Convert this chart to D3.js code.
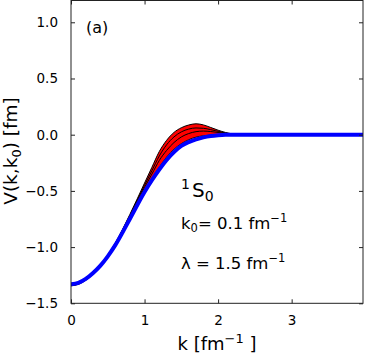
<!DOCTYPE html>
<html>
<head>
<meta charset="utf-8">
<script src="https://cdn.jsdelivr.net/npm/d3@7"></script>
<style>
    body { margin: 0; background: #fff; }
    text { font-family: 'DejaVu Sans', sans-serif; fill: #000; }
</style>
</head>
<body>
<div id="chart"></div>
<script>
// momentum grid [fm^-1]
const kGrid = [0, 0.1, 0.2, 0.3, 0.4, 0.5, 0.6, 0.8, 1.0, 1.1, 1.2, 1.3, 1.4, 1.5, 1.6, 1.7, 1.8, 1.9, 2.0, 2.1, 2.2, 2.3, 2.5, 3.0, 3.5, 4.0];

// black curves, top to bottom of the red band
const band1 = [-1.335, -1.322, -1.285, -1.23, -1.16, -1.07, -0.965, -0.71, -0.43, -0.29, -0.15, -0.05, 0.02, 0.062, 0.086, 0.097, 0.087, 0.064, 0.040, 0.020, 0.007, 0.002, 0, 0, 0, 0];
const band2 = [-1.337, -1.324, -1.287, -1.232, -1.163, -1.075, -0.97, -0.72, -0.45, -0.32, -0.19, -0.09, -0.02, 0.025, 0.05, 0.06, 0.057, 0.045, 0.03, 0.015, 0.005, 0.001, 0, 0, 0, 0];
const band3 = [-1.34, -1.327, -1.29, -1.236, -1.168, -1.08, -0.978, -0.73, -0.47, -0.35, -0.23, -0.14, -0.07, -0.02, 0.01, 0.027, 0.032, 0.028, 0.02, 0.01, 0.004, 0.001, 0, 0, 0, 0];
const band4 = [-1.345, -1.332, -1.296, -1.242, -1.175, -1.09, -0.99, -0.745, -0.50, -0.39, -0.29, -0.20, -0.13, -0.08, -0.045, -0.022, -0.01, -0.004, 0, 0, 0, 0, 0, 0, 0, 0];
// thick blue curve
const blueCurve = [-1.33, -1.318, -1.283, -1.23, -1.165, -1.082, -0.985, -0.75, -0.51, -0.405, -0.31, -0.225, -0.155, -0.10, -0.066, -0.042, -0.024, -0.012, -0.005, -0.001, 0, 0, 0, 0, 0, 0];

const xTicks = [0, 1, 2, 3];
const yTicks = [-1.5, -1.0, -0.5, 0.0, 0.5, 1.0];

const width = 365;
const height = 355;
const plot = { left: 71, right: 363, top: -0.2, bottom: 303.3 };

const x = d3.scaleLinear().domain([0, 3.97]).range([plot.left, plot.right]);
const y = d3.scaleLinear().domain([-1.5, 1.2]).range([plot.bottom, plot.top]);

const svg = d3.select('#chart').append('svg')
    .attr('width', width)
    .attr('height', height);

svg.append('clipPath').attr('id', 'clip')
    .append('rect')
    .attr('x', plot.left)
    .attr('y', 0)
    .attr('width', plot.right - plot.left)
    .attr('height', plot.bottom);

const toPoints = vals => kGrid.map((k, i) => ({ k, v: vals[i] }));

const line = d3.line()
    .x(d => x(d.k))
    .y(d => y(d.v))
    .curve(d3.curveMonotoneX);

const area = d3.area()
    .x((d, i) => x(kGrid[i]))
    .y0((d, i) => y(band4[i]))
    .y1((d, i) => y(band1[i]))
    .curve(d3.curveMonotoneX);

const g = svg.append('g').attr('clip-path', 'url(#clip)');

// red band between outer curves
g.append('path')
    .datum(kGrid)
    .attr('d', area)
    .attr('fill', '#ff0000');

[band1, band2, band3, band4].forEach((vals) => {
    g.append('path')
        .datum(toPoints(vals))
        .attr('d', line)
        .attr('fill', 'none')
        .attr('stroke', '#000')
        .attr('stroke-width', 1);
});

g.append('path')
    .datum(toPoints(blueCurve))
    .attr('d', line)
    .attr('fill', 'none')
    .attr('stroke', '#0000ff')
    .attr('stroke-width', 4);

// frame
svg.append('rect')
    .attr('x', plot.left)
    .attr('y', 0.5)
    .attr('width', plot.right - plot.left)
    .attr('height', plot.bottom - 0.5)
    .attr('fill', 'none')
    .attr('stroke', '#222')
    .attr('stroke-width', 1);

const fmt = v => d3.format('.1f')(v).replace('-', '\u2212');

// axes with inward ticks, mirrored on top and right
svg.append('g')
    .attr('transform', `translate(0,${plot.bottom})`)
    .call(d3.axisBottom(x).tickValues(xTicks).tickSize(-4).tickPadding(12).tickFormat(d3.format('d')))
    .call(ax => ax.select('.domain').remove());

svg.append('g')
    .attr('transform', 'translate(0,0.5)')
    .call(d3.axisTop(x).tickValues(xTicks).tickSize(-4).tickFormat(''))
    .call(ax => ax.select('.domain').remove());

svg.append('g')
    .attr('transform', `translate(${plot.left},0)`)
    .call(d3.axisLeft(y).tickValues(yTicks).tickSize(-4).tickPadding(13).tickFormat(fmt))
    .call(ax => ax.select('.domain').remove());

svg.append('g')
    .attr('transform', `translate(${plot.right},0)`)
    .call(d3.axisRight(y).tickValues(yTicks).tickSize(-4).tickFormat(''))
    .call(ax => ax.select('.domain').remove());

svg.selectAll('.tick text')
    .style('font-family', "'DejaVu Sans', sans-serif")
    .style('font-size', '13.5px')
    .attr('fill', '#000');
svg.selectAll('.tick line').attr('stroke', '#222');

// axis labels
const xl = svg.append('text')
    .attr('x', 217)
    .attr('y', 350)
    .attr('text-anchor', 'middle')
    .style('font-size', '18px');
xl.append('tspan').text('k [fm');
xl.append('tspan').attr('dy', -7).style('font-size', '13px').text('\u22121');
xl.append('tspan').attr('dy', 7).text(' ]');

const yl = svg.append('text')
    .attr('transform', 'translate(16.5,151) rotate(-90)')
    .attr('text-anchor', 'middle')
    .style('font-size', '18.5px');
yl.append('tspan').text('V(k,k');
yl.append('tspan').attr('dy', 4).style('font-size', '13px').text('0');
yl.append('tspan').attr('dy', -4).text(') [fm]');

// annotations
svg.append('text')
    .attr('x', 86)
    .attr('y', 33)
    .style('font-size', '16px')
    .text('(a)');

const st = svg.append('text')
    .attr('x', 181)
    .attr('y', 197)
    .style('font-size', '20px');
st.append('tspan').attr('dy', -8).style('font-size', '14px').text('1');
st.append('tspan').attr('dx', 2).attr('dy', 8).text('S');
st.append('tspan').attr('dy', 4).style('font-size', '14px').text('0');

const k0 = svg.append('text')
    .attr('x', 181)
    .attr('y', 229)
    .style('font-size', '16.5px');
k0.append('tspan').text('k');
k0.append('tspan').attr('dy', 3).style('font-size', '11.5px').text('0');
k0.append('tspan').attr('dy', -3).text('= 0.1 fm');
k0.append('tspan').attr('dy', -7).style('font-size', '11.5px').text('\u22121');

const lam = svg.append('text')
    .attr('x', 181)
    .attr('y', 269)
    .style('font-size', '16.5px');
lam.append('tspan').text('\u03bb = 1.5 fm');
lam.append('tspan').attr('dy', -7).style('font-size', '11.5px').text('\u22121');
</script>
</body>
</html>
